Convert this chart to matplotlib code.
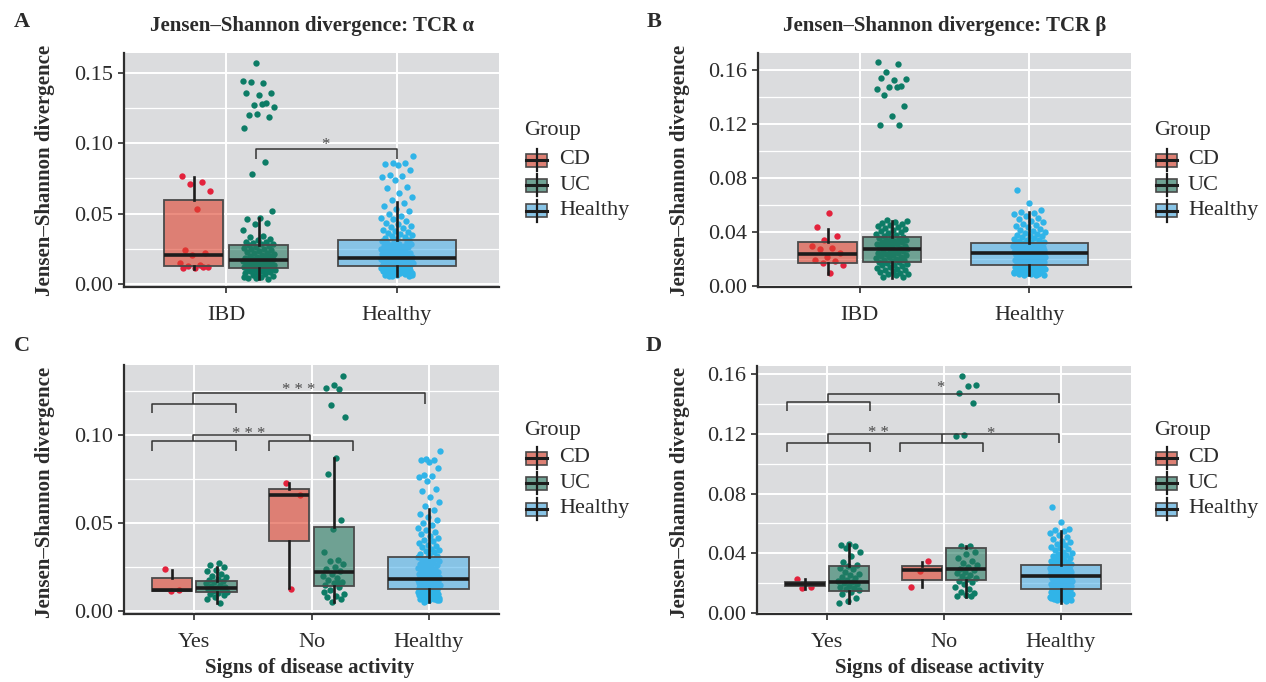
import numpy as np
import matplotlib
matplotlib.use("Agg")
import matplotlib.pyplot as plt
from matplotlib.patches import Rectangle
from matplotlib.lines import Line2D
from matplotlib.transforms import offset_copy

W, H = 1266, 682
plt.rcParams['font.family'] = ['Liberation Serif', 'DejaVu Serif']

# ---------------- data ----------------
group_names = ["CD", "UC", "Healthy"]
cats_ab = ["IBD", "Healthy"]
cats_cd = ["Yes", "No", "Healthy"]

# box stats: [whisker low, Q1, median, Q3, whisker high]
# ---- Panel A: TCR alpha ----
a_cd_box = [0.0105, 0.0123, 0.0204, 0.0598, 0.0764]
a_uc_box = [0.0033, 0.0112, 0.0169, 0.0275, 0.0468]
a_h_box = [0.0052, 0.0123, 0.0183, 0.0308, 0.0579]
a_cd_pts = [0.0770, 0.0722, 0.0712, 0.0660, 0.0530, 0.0240, 0.0215, 0.0205,
            0.0150, 0.0135, 0.0125, 0.0120, 0.0115, 0.0112, 0.0118]
a_uc_pts = [0.1576, 0.1445, 0.1432, 0.1438, 0.1358, 0.1345, 0.1362, 0.1290,
            0.1274, 0.1262, 0.1280, 0.1200, 0.1187, 0.1210, 0.1113, 0.0871,
            0.0781, 0.0520,
            0.0465, 0.0462, 0.0430, 0.0425, 0.0380, 0.0338, 0.0335, 0.0320,
            0.0310, 0.0300, 0.0295, 0.0290, 0.0285, 0.0280,
            0.0272, 0.0268, 0.0262, 0.0256, 0.0250, 0.0245, 0.0240, 0.0234,
            0.0228, 0.0222, 0.0216, 0.0210, 0.0205, 0.0200, 0.0195, 0.0190,
            0.0186, 0.0182, 0.0178, 0.0174, 0.0171,
            0.0167, 0.0164, 0.0161, 0.0158, 0.0155, 0.0152, 0.0149, 0.0146,
            0.0143, 0.0140, 0.0137, 0.0134, 0.0131, 0.0128, 0.0125, 0.0122,
            0.0119, 0.0116, 0.0114, 0.0113,
            0.0110, 0.0107, 0.0104, 0.0100, 0.0096, 0.0092, 0.0088, 0.0084,
            0.0079, 0.0074, 0.0069, 0.0063, 0.0057, 0.0050, 0.0042, 0.0035,
            0.0040, 0.0047, 0.0098, 0.0106]
h_alpha_pts = [0.0052, 0.0058, 0.0061, 0.0065, 0.0068, 0.0071, 0.0074, 0.0077,
               0.0080, 0.0083, 0.0086, 0.0089, 0.0091, 0.0094, 0.0097, 0.0099,
               0.0102, 0.0104, 0.0107, 0.0109, 0.0111, 0.0113, 0.0115, 0.0117,
               0.0119, 0.0121, 0.0056, 0.0063, 0.0087, 0.0101,
               0.0124, 0.0127, 0.0129, 0.0131, 0.0134, 0.0136, 0.0138, 0.0141,
               0.0143, 0.0145, 0.0148, 0.0150, 0.0152, 0.0155, 0.0157, 0.0159,
               0.0161, 0.0164, 0.0166, 0.0168, 0.0170, 0.0172, 0.0174, 0.0176,
               0.0178, 0.0180, 0.0182, 0.0133, 0.0147, 0.0163,
               0.0185, 0.0189, 0.0193, 0.0197, 0.0201, 0.0205, 0.0209, 0.0213,
               0.0218, 0.0222, 0.0226, 0.0231, 0.0235, 0.0240, 0.0244, 0.0249,
               0.0253, 0.0258, 0.0262, 0.0267, 0.0271, 0.0276, 0.0281, 0.0286,
               0.0291, 0.0296, 0.0300, 0.0304, 0.0216, 0.0238,
               0.0312, 0.0318, 0.0325, 0.0331, 0.0338, 0.0345, 0.0352, 0.0360,
               0.0368, 0.0376, 0.0385, 0.0394, 0.0403, 0.0413, 0.0423, 0.0434,
               0.0446, 0.0458, 0.0471, 0.0485, 0.0500, 0.0516, 0.0533, 0.0551,
               0.0575,
               0.0595, 0.0620, 0.0648, 0.0682, 0.0690, 0.0740, 0.0760, 0.0768,
               0.0772, 0.0810, 0.0845, 0.0855, 0.0858, 0.0862, 0.0908]

# ---- Panel B: TCR beta ----
b_cd_box = [0.0092, 0.0175, 0.0236, 0.0330, 0.0426]
b_uc_box = [0.0063, 0.0180, 0.0272, 0.0363, 0.0480]
b_h_box = [0.0080, 0.0156, 0.0249, 0.0317, 0.0552]
b_cd_pts = [0.0540, 0.0435, 0.0375, 0.0345, 0.0295, 0.0280, 0.0275, 0.0245,
            0.0215, 0.0195, 0.0185, 0.0170, 0.0155, 0.0102]
b_uc_pts = [0.1655, 0.1645, 0.1585, 0.1530, 0.1525, 0.1535, 0.1480, 0.1470,
            0.1460, 0.1475, 0.1410, 0.1330, 0.1260, 0.1195, 0.1190,
            0.0488, 0.0482, 0.0476, 0.0470, 0.0463, 0.0455, 0.0448, 0.0440,
            0.0432, 0.0424, 0.0416, 0.0408, 0.0400, 0.0392, 0.0384, 0.0376,
            0.0370, 0.0366,
            0.0360, 0.0355, 0.0350, 0.0345, 0.0340, 0.0335, 0.0330, 0.0325,
            0.0320, 0.0315, 0.0310, 0.0305, 0.0300, 0.0295, 0.0290, 0.0285,
            0.0280, 0.0276,
            0.0268, 0.0263, 0.0258, 0.0253, 0.0248, 0.0243, 0.0238, 0.0233,
            0.0228, 0.0223, 0.0218, 0.0213, 0.0208, 0.0203, 0.0198, 0.0193,
            0.0188, 0.0183,
            0.0178, 0.0172, 0.0166, 0.0160, 0.0154, 0.0148, 0.0142, 0.0136,
            0.0130, 0.0124, 0.0118, 0.0112, 0.0106, 0.0100, 0.0094, 0.0088,
            0.0080, 0.0072, 0.0066]
h_beta_pts = [0.0080, 0.0083, 0.0086, 0.0089, 0.0092, 0.0095, 0.0098, 0.0101,
              0.0104, 0.0107, 0.0110, 0.0113, 0.0116, 0.0119, 0.0122, 0.0125,
              0.0128, 0.0131, 0.0134, 0.0137, 0.0140, 0.0143, 0.0146, 0.0149,
              0.0152, 0.0154, 0.0088, 0.0097, 0.0106, 0.0118,
              0.0158, 0.0161, 0.0164, 0.0167, 0.0170, 0.0173, 0.0176, 0.0179,
              0.0182, 0.0185, 0.0188, 0.0191, 0.0194, 0.0197, 0.0200, 0.0203,
              0.0206, 0.0209, 0.0212, 0.0215, 0.0218, 0.0221, 0.0224, 0.0227,
              0.0230, 0.0233, 0.0236, 0.0240, 0.0244, 0.0247,
              0.0251, 0.0253, 0.0255, 0.0257, 0.0259, 0.0261, 0.0263, 0.0265,
              0.0267, 0.0269, 0.0271, 0.0273, 0.0275, 0.0277, 0.0279, 0.0281,
              0.0283, 0.0285, 0.0287, 0.0289, 0.0291, 0.0293, 0.0295, 0.0297,
              0.0299, 0.0302, 0.0305, 0.0308, 0.0311, 0.0314,
              0.0320, 0.0325, 0.0330, 0.0335, 0.0340, 0.0345, 0.0350, 0.0356,
              0.0362, 0.0368, 0.0374, 0.0381, 0.0388, 0.0395, 0.0402, 0.0410,
              0.0418, 0.0426, 0.0435, 0.0444, 0.0453, 0.0463, 0.0473, 0.0484,
              0.0495, 0.0507, 0.0520, 0.0534, 0.0545, 0.0552,
              0.0565, 0.0612, 0.0712]

# ---- Panel C: TCR alpha by disease activity ----
c_yes_cd_box = [0.0114, 0.0114, 0.0119, 0.0186, 0.0233]
c_yes_uc_box = [0.0044, 0.0104, 0.0129, 0.0167, 0.0248]
c_no_cd_box = [0.0129, 0.0394, 0.0661, 0.0691, 0.0726]
c_no_uc_box = [0.0047, 0.0142, 0.0218, 0.0477, 0.0868]
c_yes_cd_pts = [0.0235, 0.0115, 0.0110]
c_yes_uc_pts = [0.0272, 0.0262, 0.0248, 0.0232, 0.0225, 0.0211, 0.0198, 0.0189,
                0.0181, 0.0176, 0.0170, 0.0162, 0.0155, 0.0148, 0.0141, 0.0135,
                0.0129, 0.0124, 0.0118, 0.0113, 0.0108, 0.0101, 0.0095, 0.0087,
                0.0079, 0.0068, 0.0045]
c_no_cd_pts = [0.0725, 0.0660, 0.0125]
c_no_uc_pts = [0.1335, 0.1285, 0.1268, 0.1260, 0.1172, 0.1104, 0.0868, 0.0780,
               0.0515, 0.0465, 0.0335, 0.0290, 0.0280, 0.0265, 0.0250, 0.0235,
               0.0225, 0.0210, 0.0195, 0.0185, 0.0175, 0.0165, 0.0155, 0.0145,
               0.0135, 0.0115, 0.0095, 0.0085, 0.0075, 0.0065, 0.0050, 0.0105,
               0.0155]

# ---- Panel D: TCR beta by disease activity ----
d_yes_cd_box = [0.0157, 0.0179, 0.0190, 0.0208, 0.0224]
d_yes_uc_box = [0.0067, 0.0148, 0.0208, 0.0315, 0.0458]
d_no_cd_box = [0.0170, 0.0219, 0.0286, 0.0311, 0.0338]
d_no_uc_box = [0.0107, 0.0219, 0.0291, 0.0436, 0.0450]
d_h_box = [0.0067, 0.0157, 0.0246, 0.0322, 0.0548]
d_yes_cd_pts = [0.0225, 0.0175, 0.0165]
d_yes_uc_pts = [0.0462, 0.0455, 0.0445, 0.0432, 0.0405, 0.0380, 0.0342, 0.0320,
                0.0310, 0.0300, 0.0290, 0.0275, 0.0262, 0.0250, 0.0240, 0.0230,
                0.0220, 0.0210, 0.0205, 0.0198, 0.0190, 0.0182, 0.0175, 0.0168,
                0.0160, 0.0150, 0.0140, 0.0125, 0.0100, 0.0080, 0.0065]
d_no_cd_pts = [0.0345, 0.0280, 0.0175]
d_no_uc_pts = [0.1587, 0.1527, 0.1525, 0.1473, 0.1408, 0.1191, 0.1183,
               0.0450, 0.0445, 0.0410, 0.0395, 0.0370, 0.0350, 0.0335, 0.0320,
               0.0305, 0.0295, 0.0285, 0.0275, 0.0265, 0.0255, 0.0245, 0.0235,
               0.0225, 0.0215, 0.0205, 0.0190, 0.0175, 0.0160, 0.0140, 0.0130,
               0.0120, 0.0115, 0.0110]

# ---------------- style ----------------
PANEL_BG = '#DBDCDE'
PT_COL = {'CD': '#E3223C', 'UC': '#0D7C66', 'Healthy': '#30B4E8'}
BOX_FILL = {'CD': (223/255, 66/255, 45/255, 0.6),
            'UC': (40/255, 123/255, 98/255, 0.6),
            'Healthy': (80/255, 179/255, 235/255, 0.6)}
KEY_FILL = {'CD': '#DE8074', 'UC': '#70A294', 'Healthy': '#88C4E6'}
TXT = '#2b2b2b'
DODGE = 0.19
W_DODGE = 0.345
W_SINGLE = 0.69
JIT = 0.095
PT_SIZE = 21

fig = plt.figure(figsize=(W / 100, H / 100), dpi=100)


def fx(x):
    return x / W


def fy(y):
    return 1 - y / H


def jitter(n, phase):
    k = np.arange(n)
    return ((k * 0.6180339887 + phase) % 1.0 - 0.5) * 2 * JIT


def make_axes(left, top, right, bottom):
    return fig.add_axes([fx(left), fy(bottom), fx(right) - fx(left),
                         (bottom - top) / H])


def style_axes(ax, cats, ylim, yticks, yminor, ytl):
    ax.set_facecolor(PANEL_BG)
    ax.set_xlim(0.4, len(cats) + 0.6)
    ax.set_ylim(*ylim)
    ax.set_xticks(np.arange(1, len(cats) + 1))
    ax.set_xticklabels(cats)
    ax.set_yticks(yticks)
    ax.set_yticklabels(ytl)
    ax.set_yticks(yminor, minor=True)
    ax.set_axisbelow(True)
    ax.yaxis.grid(True, which='major', color='white', lw=1.4)
    ax.yaxis.grid(True, which='minor', color='white', lw=0.9)
    ax.xaxis.grid(True, which='major', color='white', lw=1.4)
    for s in ['top', 'right']:
        ax.spines[s].set_visible(False)
    for s in ['left', 'bottom']:
        ax.spines[s].set_color('#2e2e2e')
        ax.spines[s].set_linewidth(1.6)
    ax.tick_params(axis='both', which='major', direction='out', length=4,
                   width=1.2, color='#2e2e2e', labelsize=16,
                   labelcolor=TXT, pad=4)
    ax.tick_params(axis='x', which='major', pad=10)
    ax.tick_params(axis='y', which='minor', length=0)


def draw_group(ax, pos, width, box, pts, name, phase):
    pts = np.asarray(pts)
    xs = pos + jitter(len(pts), phase)
    ax.scatter(xs, pts, s=PT_SIZE, c=PT_COL[name], linewidths=0, zorder=3)
    st = [dict(whislo=box[0], q1=box[1], med=box[2], q3=box[3],
               whishi=box[4], fliers=[])]
    r = ax.bxp(st, positions=[pos], widths=[width], patch_artist=True,
               showfliers=False, showcaps=False, manage_ticks=False,
               boxprops=dict(facecolor=BOX_FILL[name], edgecolor='#4a4a4a',
                             linewidth=1.3),
               medianprops=dict(color='#1c1c1c', linewidth=2.6,
                                solid_capstyle='butt'),
               whiskerprops=dict(color='#1c1c1c', linewidth=1.9))
    for b in r['boxes']:
        b.set_zorder(4)
    for w_ in r['whiskers']:
        w_.set_zorder(5)
    for m in r['medians']:
        m.set_zorder(5)


def seg(ax, xs, ys):
    ax.plot(xs, ys, color='#333333', lw=1.1, zorder=6, clip_on=False,
            solid_capstyle='butt')


def stars(ax, x, y, s):
    tr = offset_copy(ax.transData, fig=fig, y=-6.2, units='points')
    ax.text(x, y, s, transform=tr, ha='center', va='baseline', fontsize=12,
            color='#4a4a4a', zorder=7)


def legend(x_title, x_key, x_lab, y_title, y_keys):
    fig.text(fx(x_title), fy(y_title), "Group", fontsize=16, color=TXT,
             ha='left', va='center')
    for name, yk in zip(group_names, y_keys):
        kw = x_key[1] - x_key[0]
        fig.add_artist(Line2D([fx((x_key[0] + x_key[1]) / 2)] * 2,
                              [fy(yk - 11), fy(yk + 11)],
                              color='#1c1c1c', lw=1.6))
        fig.add_artist(Rectangle((fx(x_key[0]), fy(yk + 6.5)), kw / W,
                                 13 / H, facecolor=KEY_FILL[name],
                                 edgecolor='#4a4a4a', lw=1.2))
        fig.add_artist(Line2D([fx(x_key[0]), fx(x_key[1])], [fy(yk), fy(yk)],
                              color='#1c1c1c', lw=2.2))
        fig.text(fx(x_lab), fy(yk), name, fontsize=16, color=TXT,
                 ha='left', va='center')


def ylabel(x, yc):
    fig.text(fx(x), fy(yc), "Jensen\u2013Shannon divergence", rotation=90,
             fontsize=15, fontweight='bold', color=TXT, ha='center',
             va='center')


# ---------------- Panel A ----------------
axA = make_axes(124, 53, 499, 287)
style_axes(axA, cats_ab, (-0.0024, 0.1645), [0, 0.05, 0.10, 0.15],
           [0.025, 0.075, 0.125], ["0.00", "0.05", "0.10", "0.15"])
draw_group(axA, 1 - DODGE, W_DODGE, a_cd_box, a_cd_pts, 'CD', 0.13)
draw_group(axA, 1 + DODGE, W_DODGE, a_uc_box, a_uc_pts, 'UC', 0.41)
draw_group(axA, 2, W_SINGLE, a_h_box, h_alpha_pts, 'Healthy', 0.27)
seg(axA, [1.173, 1.173, 2.0, 2.0], [0.0888, 0.0959, 0.0959, 0.0888])
stars(axA, 1.58, 0.1025, "*")

# ---------------- Panel B ----------------
axB = make_axes(758, 53, 1131, 287)
style_axes(axB, cats_ab, (-0.0005, 0.1723), [0, 0.04, 0.08, 0.12, 0.16],
           [0.02, 0.06, 0.10, 0.14], ["0.00", "0.04", "0.08", "0.12", "0.16"])
draw_group(axB, 1 - DODGE, W_DODGE, b_cd_box, b_cd_pts, 'CD', 0.55)
draw_group(axB, 1 + DODGE, W_DODGE, b_uc_box, b_uc_pts, 'UC', 0.08)
draw_group(axB, 2, W_SINGLE, b_h_box, h_beta_pts, 'Healthy', 0.71)

# ---------------- Panel C ----------------
axC = make_axes(124, 365, 499, 614)
style_axes(axC, cats_cd, (-0.0019, 0.1398), [0, 0.05, 0.10],
           [0.025, 0.075, 0.125], ["0.00", "0.05", "0.10"])
draw_group(axC, 1 - DODGE, W_DODGE, c_yes_cd_box, c_yes_cd_pts, 'CD', 0.2)
draw_group(axC, 1 + DODGE, W_DODGE, c_yes_uc_box, c_yes_uc_pts, 'UC', 0.6)
draw_group(axC, 2 - DODGE, W_DODGE, c_no_cd_box, c_no_cd_pts, 'CD', 0.35)
draw_group(axC, 2 + DODGE, W_DODGE, c_no_uc_box, c_no_uc_pts, 'UC', 0.9)
draw_group(axC, 3, W_SINGLE, a_h_box, h_alpha_pts, 'Healthy', 0.27)
# brackets
seg(axC, [0.637, 0.637, 1.355, 1.355], [0.1125, 0.1176, 0.1176, 0.1125])
seg(axC, [0.99, 0.99, 2.97, 2.97], [0.1176, 0.124, 0.124, 0.1176])
stars(axC, 1.89, 0.128, "* * *")
seg(axC, [0.637, 0.637, 1.355, 1.355], [0.0911, 0.0964, 0.0964, 0.0911])
seg(axC, [1.634, 1.634, 2.352, 2.352], [0.0911, 0.0964, 0.0964, 0.0911])
seg(axC, [0.99, 0.99, 1.99, 1.99], [0.0964, 0.0998, 0.0998, 0.0964])
stars(axC, 1.46, 0.1034, "* * *")

# ---------------- Panel D ----------------
axD = make_axes(757, 366, 1131, 614)
style_axes(axD, cats_cd, (-0.0009, 0.1656), [0, 0.04, 0.08, 0.12, 0.16],
           [0.02, 0.06, 0.10, 0.14], ["0.00", "0.04", "0.08", "0.12", "0.16"])
draw_group(axD, 1 - DODGE, W_DODGE, d_yes_cd_box, d_yes_cd_pts, 'CD', 0.15)
draw_group(axD, 1 + DODGE, W_DODGE, d_yes_uc_box, d_yes_uc_pts, 'UC', 0.5)
draw_group(axD, 2 - DODGE, W_DODGE, d_no_cd_box, d_no_cd_pts, 'CD', 0.8)
draw_group(axD, 2 + DODGE, W_DODGE, d_no_uc_box, d_no_uc_pts, 'UC', 0.33)
draw_group(axD, 3, W_SINGLE, d_h_box, h_beta_pts, 'Healthy', 0.71)
seg(axD, [0.654, 0.654, 1.365, 1.365], [0.1352, 0.1412, 0.1412, 0.1352])
seg(axD, [1.006, 1.006, 2.98, 2.98], [0.1412, 0.1471, 0.1471, 0.1408])
stars(axD, 1.97, 0.1538, "*")
seg(axD, [0.654, 0.654, 1.365, 1.365], [0.1077, 0.1138, 0.1138, 0.1077])
seg(axD, [1.624, 1.624, 2.335, 2.335], [0.1077, 0.1138, 0.1138, 0.1077])
seg(axD, [1.98, 1.98], [0.1138, 0.1198])
seg(axD, [1.006, 1.006, 2.98, 2.98], [0.1138, 0.1198, 0.1198, 0.114])
stars(axD, 1.44, 0.1240, "* *")
stars(axD, 2.40, 0.1231, "*")

# ---------------- titles, labels, legends ----------------
fig.text(fx(311.5), fy(26), "Jensen\u2013Shannon divergence: TCR \u03b1",
         fontsize=15, fontweight='bold', color=TXT, ha='center', va='center')
fig.text(fx(944.5), fy(26), "Jensen\u2013Shannon divergence: TCR \u03b2",
         fontsize=15, fontweight='bold', color=TXT, ha='center', va='center')
for lab, x, y in [("A", 22, 22), ("B", 654, 22), ("C", 22, 346),
                  ("D", 654, 346)]:
    fig.text(fx(x), fy(y), lab, fontsize=16, fontweight='bold', color=TXT,
             ha='center', va='center')
ylabel(45, 170)
ylabel(680, 170)
ylabel(45, 492)
ylabel(680, 492)
fig.text(fx(310), fy(668), "Signs of disease activity", fontsize=15,
         fontweight='bold', color=TXT, ha='center', va='center')
fig.text(fx(940), fy(668), "Signs of disease activity", fontsize=15,
         fontweight='bold', color=TXT, ha='center', va='center')

legend(524, (526, 547), 559, 130, [160, 185, 211])
legend(1154, (1156, 1177), 1188, 130, [160, 185, 211])
legend(524, (526, 547), 559, 430, [458, 483, 509])
legend(1154, (1156, 1177), 1188, 430, [458, 483, 509])

fig.savefig("out.png", dpi=100)
